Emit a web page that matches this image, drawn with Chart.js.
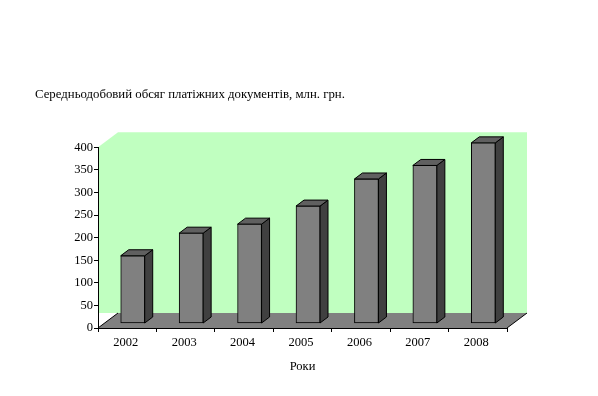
<!DOCTYPE html>
<html><head><meta charset="utf-8">
<style>html,body{margin:0;padding:0;background:#fff}canvas{display:block}</style>
<script src="https://cdn.jsdelivr.net/npm/chart.js@4"></script>
</head><body><div style="width:598px;height:396px"><canvas id="c"></canvas></div>
<script>
const years = ['2002','2003','2004','2005','2006','2007','2008'];
const volumes = [150,200,220,260,320,350,400];
const yTicks = [0,50,100,150,200,250,300,350,400];
const chartTitle = 'Середньодобовий обсяг платіжних документів, млн. грн.';
const xTitle = 'Роки';
const FONT = '"Liberation Serif","Times New Roman",serif';
const WALL = '#C0FFC0', FLOOR = '#808080', FRONT = '#808080', SIDE = '#404040', TOP = '#606060';
const DX = 20, DY = 15;        // chart box depth
const BX = 8, BY = 6;          // bar depth
const SX = 5.5, SY = -4.5;     // bar placement inside the box

function poly(ctx, pts, fill, stroke){
  ctx.beginPath();
  pts.forEach((p,i)=> i?ctx.lineTo(p[0],p[1]):ctx.moveTo(p[0],p[1]));
  ctx.closePath();
  if(fill){ctx.fillStyle=fill;ctx.fill();}
  if(stroke){ctx.strokeStyle=stroke;ctx.lineWidth=1;ctx.stroke();}
}
const box3d = {
  id:'box3d',
  beforeDraw(chart){
    const {ctx,chartArea:a}=chart;
    ctx.save();
    poly(ctx,[[a.left,a.top],[a.left+DX,a.top-DY],[a.right+DX,a.top-DY],[a.right+DX,a.bottom-DY],[a.left,a.bottom-DY]],WALL);
    poly(ctx,[[a.left,a.bottom],[a.left+DX,a.bottom-DY],[a.right+DX,a.bottom-DY],[a.right,a.bottom]],FLOOR);
    ctx.strokeStyle='#000';ctx.lineWidth=1;
    ctx.beginPath();
    ctx.moveTo(a.left,a.bottom);ctx.lineTo(a.left+DX,a.bottom-DY);
    ctx.moveTo(a.right,a.bottom);ctx.lineTo(a.right+DX,a.bottom-DY);
    ctx.stroke();
    ctx.restore();
  },
  beforeDatasetDraw(chart,args){
    const ctx=chart.ctx;
    ctx.save();
    ctx.translate(SX,SY);
    args.meta.data.forEach(b=>{
      const w=b.width/2,l=b.x-w,r=b.x+w,t=b.y,bt=b.base;
      poly(ctx,[[r,t],[r+BX,t-BY],[r+BX,bt-BY],[r,bt]],SIDE,'#000');
      poly(ctx,[[l,t],[l+BX,t-BY],[r+BX,t-BY],[r,t]],TOP,'#000');
    });
  },
  afterDatasetDraw(chart){ chart.ctx.restore(); }
};
new Chart(document.getElementById('c'),{
  type:'bar',
  data:{labels:years,datasets:[{data:volumes,backgroundColor:FRONT,borderColor:'#000',borderWidth:1,borderSkipped:false,barThickness:24,clip:false}]},
  plugins:[box3d],
  options:{
    responsive:true,maintainAspectRatio:false,animation:false,
    layout:{padding:{left:35,right:91,top:87,bottom:22}},
    plugins:{
      legend:{display:false},tooltip:{enabled:false},
      title:{display:true,text:chartTitle,align:'start',color:'#000',font:{family:FONT,size:12.8,weight:'normal'},padding:{top:0,bottom:45}}
    },
    scales:{
      x:{grid:{display:true,drawOnChartArea:false,drawTicks:true,tickLength:4,color:'#000'},border:{color:'#000'},
         ticks:{color:'#000',font:{family:FONT,size:12.5},padding:3,maxRotation:0,labelOffset:-1.5},
         title:{display:true,text:xTitle,color:'#000',font:{family:FONT,size:12.5},padding:{top:6,bottom:0}}},
      y:{min:0,max:400,afterFit(s){s.width=63;},afterBuildTicks(s){s.ticks=yTicks.map(v=>({value:v}));},
         grid:{display:true,drawOnChartArea:false,drawTicks:true,tickLength:4,color:'#000'},border:{color:'#000'},
         ticks:{color:'#000',font:{family:FONT,size:12.5},padding:1}}
    }
  }
});
</script></body></html>
